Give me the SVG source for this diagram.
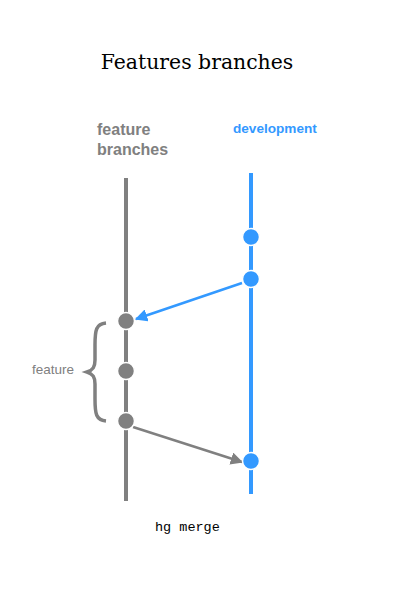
<svg xmlns="http://www.w3.org/2000/svg" width="401" height="596" viewBox="0 0 401 596">
<style>
.title{font-family:"DejaVu Serif","Liberation Serif",serif;font-size:20.4px;fill:#000}
.lbl{font-family:"Liberation Sans",Arial,sans-serif;font-weight:bold}
.g{fill:#808080}
.b{fill:#3399ff}
.cg{fill:#808080;stroke:#fff;stroke-width:1.5}
.cb{fill:#3399ff;stroke:#fff;stroke-width:1.5}
.mono{font-family:"Liberation Mono",monospace;font-size:13.5px;fill:#000}
</style>
<defs>
<marker id="ab" viewBox="0 0 10 10" refX="9" refY="5" markerWidth="5" markerHeight="5" orient="auto" markerUnits="strokeWidth"><path d="M0,0L10,5L0,10z" fill="#3399ff"/></marker>
<marker id="ag" viewBox="0 0 10 10" refX="9" refY="5" markerWidth="5" markerHeight="5" orient="auto" markerUnits="strokeWidth"><path d="M0,0L10,5L0,10z" fill="#808080"/></marker>
</defs>
<rect width="401" height="596" fill="#fff"/>
<text class="title" x="197" y="69" text-anchor="middle">Features branches</text>
<g id="lanes">
<line x1="126" y1="178" x2="126" y2="501" stroke="#808080" stroke-width="4"/>
<line x1="251" y1="173" x2="251" y2="494" stroke="#3399ff" stroke-width="4"/>
</g>
<g id="labels">
<text class="lbl g" x="97" y="135" font-size="16">feature</text>
<text class="lbl g" x="97" y="155" font-size="16">branches</text>
<text class="lbl b" x="233" y="133" font-size="13.6">development</text>
</g>
<g id="connectors">
<line x1="242" y1="283" x2="136" y2="319" stroke="#3399ff" stroke-width="2.5" marker-end="url(#ab)"/>
<line x1="133" y1="427" x2="242" y2="462" stroke="#808080" stroke-width="2.5" marker-end="url(#ag)"/>
</g>
<g id="brace">
<path d="M106,323 C96,324 95,330 95,345 L95,360 C95,367 93,370 87,372 C93,374 95,377 95,384 L95,399 C95,414 96,420 106,421" fill="none" stroke="#808080" stroke-width="3.5"/>
<text x="32" y="374" font-family="'Liberation Sans',Arial,sans-serif" font-size="13.5" fill="#808080">feature</text>
</g>
<g id="n1"><circle class="cb" cx="251" cy="237" r="8.5"/></g>
<g id="n2"><circle class="cb" cx="251" cy="279" r="8.5"/></g>
<g id="n3"><circle class="cb" cx="251" cy="461" r="8.5"/></g>
<g id="f1"><circle class="cg" cx="126" cy="321" r="8.5"/></g>
<g id="f2"><circle class="cg" cx="126" cy="371" r="8.5"/></g>
<g id="f3"><circle class="cg" cx="126" cy="421" r="8.5"/></g>
<text class="mono" x="155" y="531">hg merge</text>
</svg>
